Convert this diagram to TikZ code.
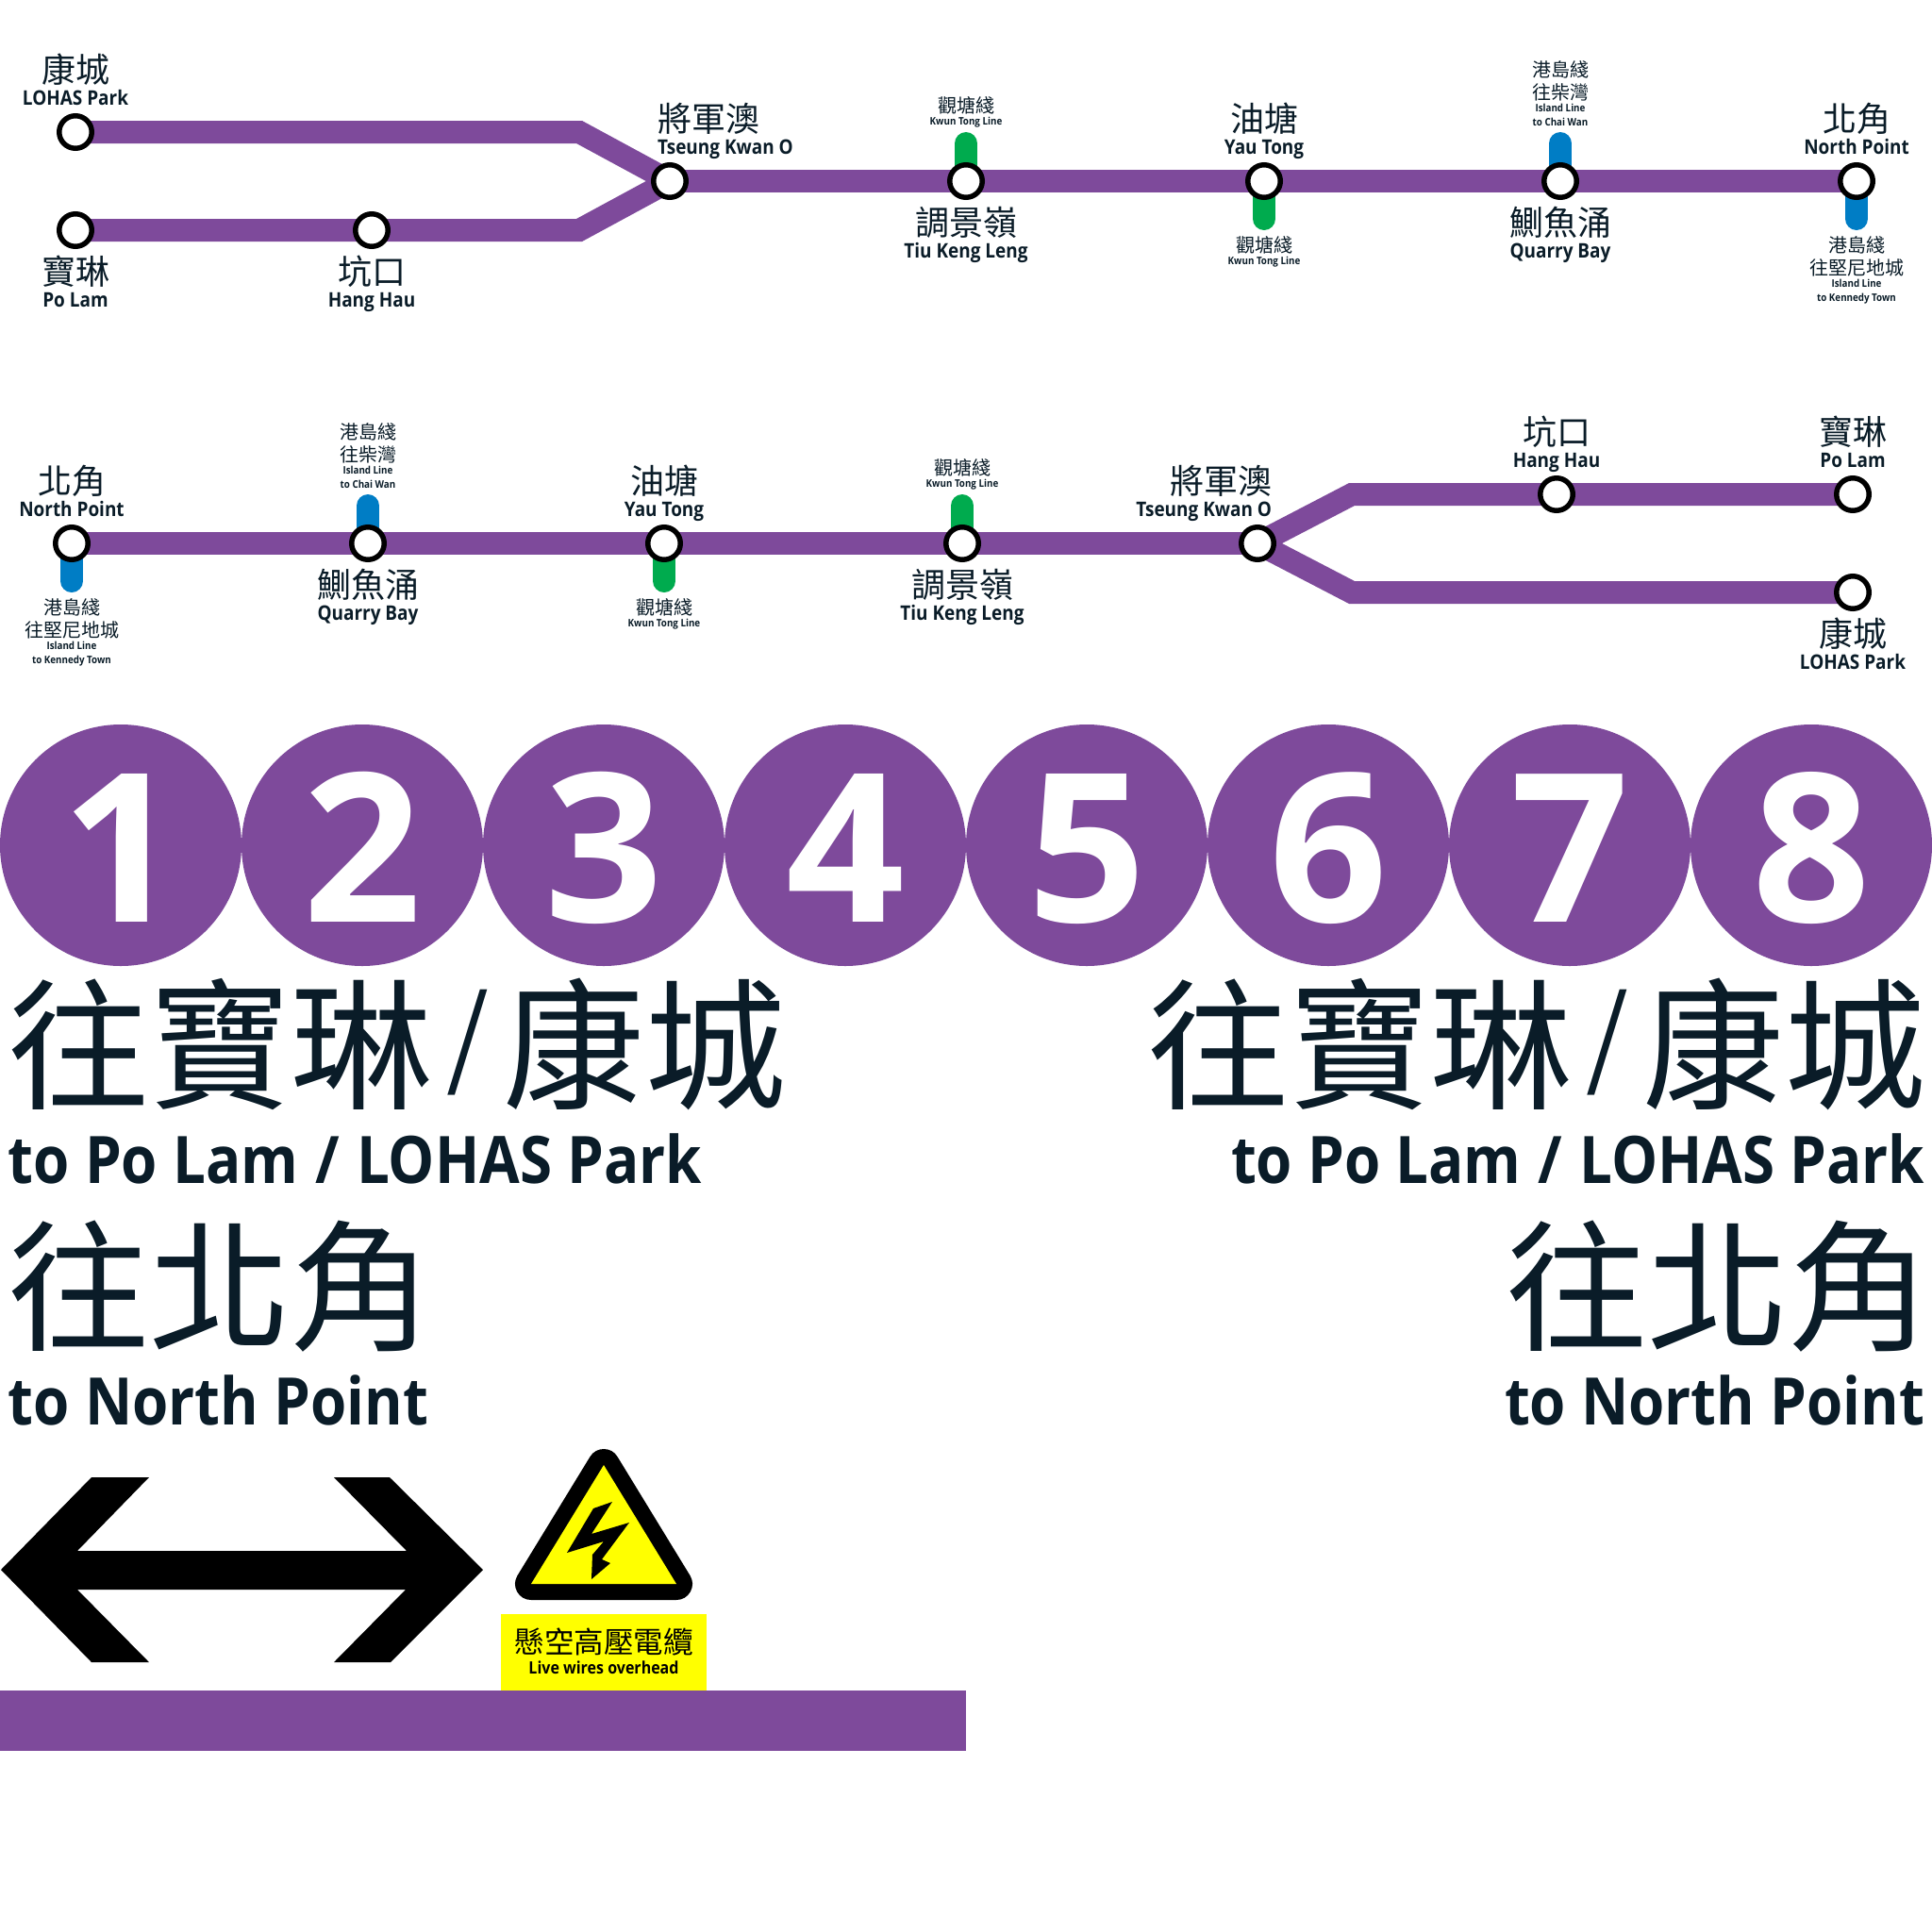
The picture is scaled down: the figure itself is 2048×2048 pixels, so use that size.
\documentclass[tikz,border=0pt]{standalone}
\usepackage{fontspec}
\setmainfont{Open Sans}
\newfontfamily\cjk{Noto Sans CJK TC}
\newfontfamily\enfont[FakeStretch=0.89]{Open Sans}
\newfontfamily\numfont{Open Sans}
\usetikzlibrary{arrows.meta,positioning,backgrounds}
\definecolor{tklpurple}{HTML}{7E4A9B}
\definecolor{ktlgreen}{HTML}{00AB4E}
\definecolor{islblue}{HTML}{007DC5}
\definecolor{inkdark}{HTML}{0A1C28}
\definecolor{signyellow}{HTML}{FFFF00}
\newcommand{\slashmark}{\kern14.5pt\raisebox{24pt}{\fontsize{115}{115}\selectfont/}\kern14.5pt}

\tikzset{
  line/.style={draw=tklpurple, line width=24pt, line join=miter, line cap=butt},
  stub/.style={line width=24pt, line cap=round},
  stn/.style={circle, draw=black, fill=white, line width=5.5pt, minimum size=34.5pt, inner sep=0pt, outer sep=2.75pt},
  stcn/.style={font=\cjk\fontsize{36}{36}\selectfont, text=inkdark, inner sep=0pt, outer sep=0pt, text height=31.5pt, text depth=4.5pt},
  sten/.style={font=\enfont\bfseries\fontsize{21.3}{22}\selectfont, text=inkdark, inner sep=0pt, outer sep=0pt, text height=16pt, text depth=5pt},
  smcn/.style={font=\cjk\fontsize{20}{20}\selectfont, text=inkdark, inner sep=0pt, outer sep=0pt, text height=17.5pt, text depth=2.5pt},
  smen/.style={font=\enfont\bfseries\fontsize{11}{12}\selectfont, text=inkdark, inner sep=0pt, outer sep=0pt, text height=9pt, text depth=3pt},
  numdisc/.style={circle, fill=tklpurple, minimum size=256pt, inner sep=0pt, text=white, text height=163pt, text depth=0pt, font=\numfont\bfseries\fontsize{220}{220}\selectfont},
  bigcn/.style={font=\cjk\fontsize{150}{150}\selectfont, text=inkdark, inner sep=0pt, outer sep=0pt, text height=131pt, text depth=19pt},
  bigen/.style={font=\enfont\bfseries\fontsize{69.5}{70}\selectfont, text=inkdark, inner sep=0pt, outer sep=0pt, text height=49pt, text depth=0pt},
}

\begin{document}
\begin{tikzpicture}[x=1pt, y=-1pt]
  \useasboundingbox (0,0) rectangle (2048,2048);

  % first strip
  \node[stn] (lohas) at (80,140) {};
  \node[stn] (polam) at (80,244) {};
  \node[stn] (hanghau) at (394,244) {};
  \node[stn] (tko) at (710,192) {};
  \node[stn] (tkl) at (1024,192) {};
  \node[stn] (yautong) at (1340,192) {};
  \node[stn] (quarry) at (1654,192) {};
  \node[stn] (north) at (1968,192) {};
  \coordinate (benda) at (614,140);
  \coordinate (bendb) at (614,244);
  \coordinate (tklstub) at (1024,152);
  \coordinate (ytstub) at (1340,232);
  \coordinate (qbstub) at (1654,152);
  \coordinate (npstub) at (1968,232);
  \begin{scope}[on background layer]
    \draw[line] (lohas.center) -- (benda) -- (tko.center);
    \draw[line] (polam.center) -- (hanghau.center) -- (bendb) -- (tko.center);
    \draw[line] (tko.center) -- (tkl.center) -- (yautong.center) -- (quarry.center) -- (north.center);
    \draw[stub, ktlgreen] (tklstub) -- (tkl.center);
    \draw[stub, ktlgreen] (ytstub) -- (yautong.center);
    \draw[stub, islblue] (qbstub) -- (quarry.center);
    \draw[stub, islblue] (npstub) -- (north.center);
  \end{scope}

  \node[sten, above=4pt of lohas] (lohasen) {LOHAS Park};
  \node[stcn, above=3pt of lohasen] (lohascn) {康城};
  \node[stcn, below=6pt of polam] (polamcn) {寶琳};
  \node[sten, below=3pt of polamcn] (polamen) {Po Lam};
  \node[stcn, below=6pt of hanghau] (hanghaucn) {坑口};
  \node[sten, below=3pt of hanghaucn] (hanghauen) {Hang Hau};
  \node[sten, above=4pt of tko, anchor=south west, xshift=-13pt] (tkoen) {Tseung Kwan O};
  \node[stcn, above=3pt of tkoen.north west, anchor=south west] (tkocn) {將軍澳};
  \node[smen, above=17pt of tklstub] (tkllineen) {Kwun Tong Line};
  \node[smcn, above=1pt of tkllineen] (tkllinecn) {觀塘綫};
  \node[stcn, below=6pt of tkl] (tklcn) {調景嶺};
  \node[sten, below=3pt of tklcn] (tklen) {Tiu Keng Leng};
  \node[sten, above=4pt of yautong] (yautongen) {Yau Tong};
  \node[stcn, above=3pt of yautongen] (yautongcn) {油塘};
  \node[smcn, below=18pt of ytstub] (ytlinecn) {觀塘綫};
  \node[smen, below=1pt of ytlinecn] (ytlineen) {Kwun Tong Line};
  \node[smen, above=16pt of qbstub] (qbdesten) {to Chai Wan};
  \node[smen, above=3pt of qbdesten] (qblineen) {Island Line};
  \node[smcn, above=1pt of qblineen] (qbdestcn) {往柴灣};
  \node[smcn, above=4pt of qbdestcn] (qblinecn) {港島綫};
  \node[stcn, below=6pt of quarry] (quarrycn) {鰂魚涌};
  \node[sten, below=3pt of quarrycn] (quarryen) {Quarry Bay};
  \node[sten, above=4pt of north] (northen) {North Point};
  \node[stcn, above=3pt of northen] (northcn) {北角};
  \node[smcn, below=18pt of npstub] (nplinecn) {港島綫};
  \node[smcn, below=4pt of nplinecn] (npdestcn) {往堅尼地城};
  \node[smen, below=1pt of npdestcn] (nplineen) {Island Line};
  \node[smen, below=3pt of nplineen] (npdesten) {to Kennedy Town};

  % second strip
  \node[stn] (northb) at (76,576) {};
  \node[stn] (quarryb) at (390,576) {};
  \node[stn] (yautongb) at (704,576) {};
  \node[stn] (tklb) at (1020,576) {};
  \node[stn] (tkob) at (1333,576) {};
  \node[stn] (hanghaub) at (1650,524) {};
  \node[stn] (polamb) at (1964,524) {};
  \node[stn] (lohasb) at (1964,628) {};
  \coordinate (bendc) at (1433,524);
  \coordinate (bendd) at (1433,628);
  \coordinate (npstubb) at (76,616);
  \coordinate (qbstubb) at (390,536);
  \coordinate (ytstubb) at (704,616);
  \coordinate (tklstubb) at (1020,536);
  \begin{scope}[on background layer]
    \draw[line] (northb.center) -- (quarryb.center) -- (yautongb.center) -- (tklb.center) -- (tkob.center);
    \draw[line] (tkob.center) -- (bendc) -- (hanghaub.center) -- (polamb.center);
    \draw[line] (tkob.center) -- (bendd) -- (lohasb.center);
    \draw[stub, islblue] (npstubb) -- (northb.center);
    \draw[stub, islblue] (qbstubb) -- (quarryb.center);
    \draw[stub, ktlgreen] (ytstubb) -- (yautongb.center);
    \draw[stub, ktlgreen] (tklstubb) -- (tklb.center);
  \end{scope}

  \node[sten, above=4pt of northb] (northben) {North Point};
  \node[stcn, above=3pt of northben] (northbcn) {北角};
  \node[smcn, below=18pt of npstubb] (npblinecn) {港島綫};
  \node[smcn, below=4pt of npblinecn] (npbdestcn) {往堅尼地城};
  \node[smen, below=1pt of npbdestcn] (npblineen) {Island Line};
  \node[smen, below=3pt of npblineen] (npbdesten) {to Kennedy Town};
  \node[smen, above=16pt of qbstubb] (qbbdesten) {to Chai Wan};
  \node[smen, above=3pt of qbbdesten] (qbblineen) {Island Line};
  \node[smcn, above=1pt of qbblineen] (qbbdestcn) {往柴灣};
  \node[smcn, above=4pt of qbbdestcn] (qbblinecn) {港島綫};
  \node[stcn, below=6pt of quarryb] (quarrybcn) {鰂魚涌};
  \node[sten, below=3pt of quarrybcn] (quarryben) {Quarry Bay};
  \node[sten, above=4pt of yautongb] (yautongben) {Yau Tong};
  \node[stcn, above=3pt of yautongben] (yautongbcn) {油塘};
  \node[smcn, below=18pt of ytstubb] (ytblinecn) {觀塘綫};
  \node[smen, below=1pt of ytblinecn] (ytblineen) {Kwun Tong Line};
  \node[smen, above=17pt of tklstubb] (tklblineen) {Kwun Tong Line};
  \node[smcn, above=1pt of tklblineen] (tklblinecn) {觀塘綫};
  \node[stcn, below=6pt of tklb] (tklbcn) {調景嶺};
  \node[sten, below=3pt of tklbcn] (tklben) {Tiu Keng Leng};
  \node[sten, above=4pt of tkob, anchor=south east, xshift=15pt] (tkoben) {Tseung Kwan O};
  \node[stcn, above=3pt of tkoben.north east, anchor=south east] (tkobcn) {將軍澳};
  \node[sten, above=4pt of hanghaub] (hanghauben) {Hang Hau};
  \node[stcn, above=3pt of hanghauben] (hanghaubcn) {坑口};
  \node[sten, above=4pt of polamb] (polamben) {Po Lam};
  \node[stcn, above=3pt of polamben] (polambcn) {寶琳};
  \node[stcn, below=6pt of lohasb] (lohasbcn) {康城};
  \node[sten, below=3pt of lohasbcn] (lohasben) {LOHAS Park};

  % number discs
  \foreach \n in {1,...,8}
    \node[numdisc] (disc\n) at ({(\n-.5)*256},896) {\n};

  % destinations
  \node[bigcn, anchor=north west] (polamleft) at (9,1033) {往寶琳\slashmark 康城};
  \node[bigen, below=22pt of polamleft.south west, anchor=north west] (polamlefte) {to Po Lam\kern2pt{} /\kern2pt{} LOHAS Park};
  \node[bigcn, below=35pt of polamlefte.south west, anchor=north west] (northleft) {往北角};
  \node[bigen, below=22pt of northleft.south west, anchor=north west] (northlefte) {to North Point};
  \node[bigcn, anchor=north east] (polamright) at (2041,1033) {往寶琳\slashmark 康城};
  \node[bigen, below=22pt of polamright.south east, anchor=north east, xshift=-1pt] (polamrighte) {to Po Lam\kern2pt{} /\kern2pt{} LOHAS Park};
  \node[bigcn, below=35pt of polamrighte.south east, anchor=north east, xshift=6pt] (northright) {往北角};
  \node[bigen, below=22pt of northright.south east, anchor=north east, xshift=-6pt] (northrighte) {to North Point};

  % double arrow
  \fill[black] (1,1664) -- (97,1566) -- (158,1566) -- (82,1644) -- (431,1644) -- (354,1566) -- (413,1566)
    -- (512,1664) -- (414,1762) -- (354,1762) -- (430,1685) -- (82,1685) -- (158,1762) -- (97,1762) -- cycle;

  % warning sign
  \draw[black, fill=black, line width=34pt, line join=round] (640,1553) -- (563,1679) -- (717,1679) -- cycle;
  \fill[signyellow] (640,1553) -- (563,1679) -- (717,1679) -- cycle;
  \fill[black] (649,1592) -- (629,1599) -- (601,1646) -- (640,1634) -- (628,1648) -- (627,1674) -- (647,1657)
    -- (638,1653) -- (667,1614) -- (627,1626) -- cycle;
  \fill[signyellow] (531,1711) rectangle (749,1792);
  \node[inner sep=0pt, font=\cjk\fontsize{31.5}{31.5}\selectfont] (wirecn) at (640,1740) {懸空高壓電纜};
  \node[inner sep=0pt, below=6pt of wirecn, font=\enfont\bfseries\fontsize{18}{19}\selectfont] (wireen) {Live wires overhead};

  % bottom bar
  \fill[tklpurple] (0,1792) rectangle (1024,1856);
\end{tikzpicture}
\end{document}
